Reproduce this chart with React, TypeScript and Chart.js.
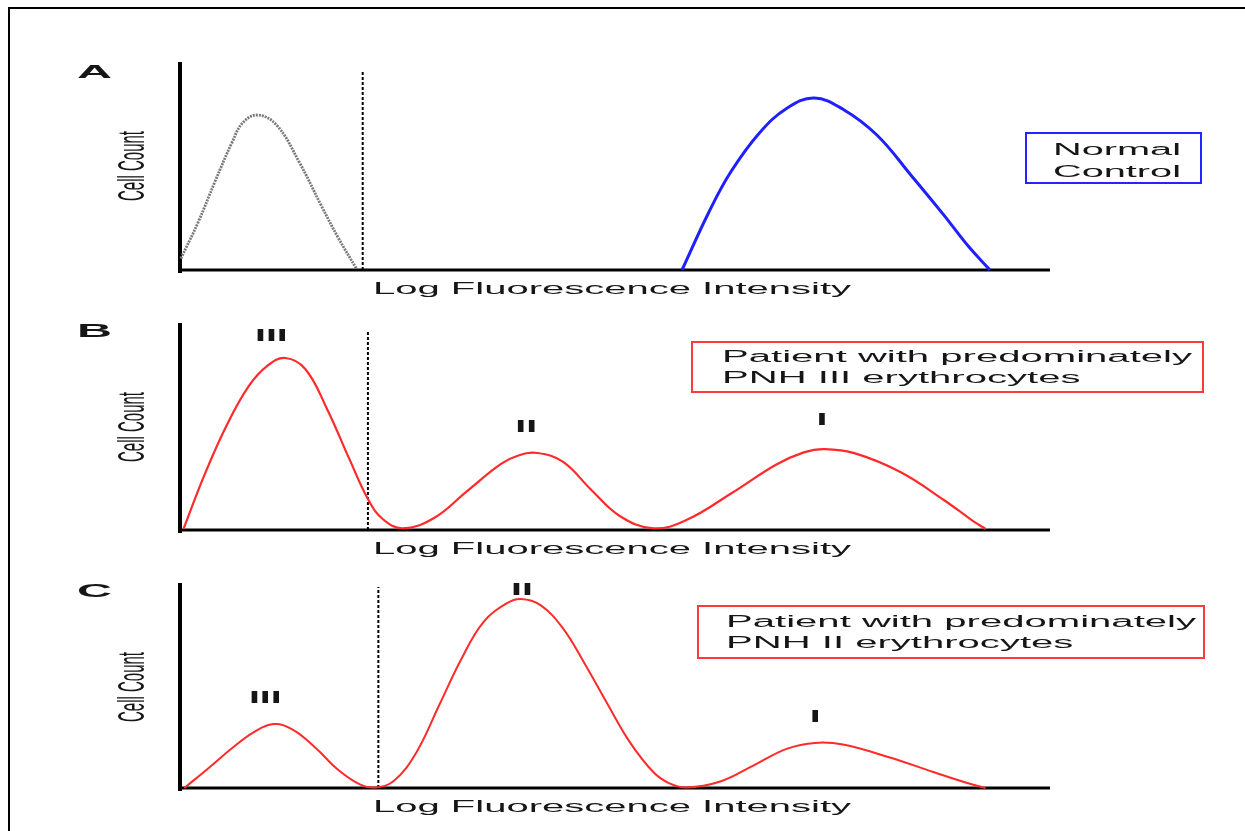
import React, { useEffect, useRef } from "react";
import { Chart, registerables } from "chart.js";

Chart.register(...registerables);

// ---------------- DATA ----------------
// x: log fluorescence intensity (0..100 arbitrary units), y: cell count (0..100 arbitrary units)

// Panel A – isotype (negative) control peak
const isotypeX = [0.1, 2.1, 4.0, 6.0, 7.2, 8.9, 11.1, 13.7, 16.2, 18.2, 20.3];
const isotypeY = [5.5, 23.1, 42.3, 61.5, 70.7, 74.5, 69.7, 51.9, 31.3, 15.4, 0.5];

// Panel A – normal control peak
const normalX = [57.7, 60.8, 63.3, 66.6, 69.8, 72.9, 76.2, 80.1, 84.0, 87.8, 90.5, 93.1];
const normalY = [0, 27.9, 47.1, 65.9, 77.9, 82.7, 77.3, 64.9, 45.7, 26.4, 12.0, 0];

// Panel B – patient with predominately PNH III cells
const patientBX = [0.4, 2.8, 5.3, 7.9, 10.1, 12.1, 14.4, 16.9, 19.5, 21.6, 23.3, 25.6, 29.2, 33.0, 36.9, 38.9, 41.1, 44.0, 47.2, 50.5, 54.4, 58.2, 63.3, 68.5, 71.7, 74.1, 77.6, 82.8, 87.8, 91.0, 92.6];
const patientBY = [0.5, 26.5, 50.0, 69.5, 79.5, 83.1, 77.8, 58.5, 34.0, 15.0, 5.3, 0.8, 5.8, 18.8, 31.9, 36.0, 37.2, 33.0, 19.7, 6.9, 0.8, 4.8, 17.5, 31.5, 37.5, 39.1, 37.0, 28.0, 14.5, 4.8, 0.5];

// Panel C – patient with predominately PNH II cells
const patientCX = [0.5, 3.3, 6.0, 8.5, 10.8, 13.0, 15.6, 18.2, 20.8, 22.5, 24.6, 27.2, 29.8, 32.4, 34.9, 37.6, 39.2, 41.4, 44.0, 46.6, 49.2, 51.7, 54.4, 56.2, 58.2, 62.1, 66.0, 69.8, 73.0, 76.2, 81.4, 86.6, 90.5, 92.6];
const patientCY = [0, 9.8, 19.5, 27.3, 31.2, 28.3, 19.5, 8.8, 1.5, 0.3, 3.5, 17.6, 40.5, 63.4, 81.0, 90.2, 92.2, 89.3, 78.0, 60.0, 40.5, 22.4, 7.8, 2.4, 0.3, 3.2, 11.2, 19.2, 22.0, 21.2, 15.1, 7.8, 2.4, 0];

// Negative-gate thresholds (x) and their heights (y) for panels A, B, C
const thresholdX = [21.0, 21.6, 22.8];
const thresholdTop = [96.2, 95.7, 98.0];

// Peak labels
const labelsBText = ["III", "II", "I"];
const labelsBX = [10.5, 39.8, 73.8];
const labelsBY = [91.3, 47.3, 50.7];
const labelsCText = ["III", "II", "I"];
const labelsCX = [9.8, 39.3, 73.0];
const labelsCY = [41.5, 94.1, 32.2];

const panelLetters = ["A", "B", "C"];
const xTitle = "Log Fluorescence Intensity";
const yTitle = "Cell Count";
const boxA = ["Normal", "Control"];
const boxB = ["Patient with predominately", "PNH III erythrocytes"];
const boxC = ["Patient with predominately", "PNH II erythrocytes"];

// ---------------- HELPERS ----------------
const FONT = '"Liberation Sans", Arial, Helvetica, sans-serif';
const TEXT = "#161616";

function pts(xs: number[], ys: number[]) {
  return xs.map((x, i) => ({ x, y: ys[i] }));
}

function stretchText(
  ctx: CanvasRenderingContext2D,
  text: string,
  x: number,
  y: number,
  font: string,
  opt: { sx?: number; width?: number; align?: "left" | "center" },
) {
  ctx.save();
  ctx.font = font;
  ctx.fillStyle = TEXT;
  ctx.textBaseline = "alphabetic";
  ctx.textAlign = "left";
  const w = ctx.measureText(text).width;
  const sx = opt.width ? opt.width / w : opt.sx || 1;
  ctx.translate(x, y);
  ctx.scale(sx, 1);
  ctx.fillText(text, opt.align === "center" ? -w / 2 : 0, 0);
  ctx.restore();
  return sx;
}

interface Box {
  x1: number; y1: number; x2: number; y2: number; color: string;
  lines: string[]; mode: "center" | "left"; tx: number; ty: number[]; width: number;
}

interface PanelCfg {
  canvasTop: number;
  canvasHeight: number;
  padTop: number;
  padBottom: number;
  letter: string;
  letterBaseline: number;
  cellCountY: number;
  box: Box;
  labels: { text: string; x: number; y: number }[];
  datasets: any[];
}

const W = 1245;
const PLOT_LEFT = 180;
const PLOT_RIGHT = 1050;

function thresholdDataset(i: number) {
  return {
    data: [{ x: thresholdX[i], y: 0 }, { x: thresholdX[i], y: thresholdTop[i] }],
    borderColor: "#000",
    borderWidth: 2,
    borderDash: [3, 2],
    pointRadius: 0,
    tension: 0,
    clip: false,
    order: 5,
  };
}

function curve(xs: number[], ys: number[], color: string, width: number, dash?: number[]) {
  return {
    data: pts(xs, ys),
    borderColor: color,
    borderWidth: width,
    borderDash: dash || [],
    pointRadius: 0,
    tension: 0.4,
    clip: false,
    order: 1,
  };
}

const panels: PanelCfg[] = [
  {
    canvasTop: 0,
    canvasHeight: 300,
    padTop: 62,
    padBottom: 30,
    letter: panelLetters[0],
    letterBaseline: 78,
    cellCountY: 166,
    box: { x1: 1026, y1: 133, x2: 1201, y2: 183, color: "#2424ff", lines: boxA, mode: "center", tx: 1117, ty: [155, 177], width: 128 },
    labels: [],
    datasets: [
      thresholdDataset(0),
      curve(isotypeX, isotypeY, "#7a7a7a", 2.8, [2, 1]),
      curve(normalX, normalY, "#1f1fff", 3),
    ],
  },
  {
    canvasTop: 300,
    canvasHeight: 260,
    padTop: 23,
    padBottom: 30,
    letter: panelLetters[1],
    letterBaseline: 337,
    cellCountY: 427,
    box: { x1: 692, y1: 342, x2: 1203, y2: 392, color: "#ff3a3a", lines: boxB, mode: "left", tx: 722, ty: [362, 383], width: 470 },
    labels: labelsBText.map((t, i) => ({ text: t, x: labelsBX[i], y: labelsBY[i] })),
    datasets: [thresholdDataset(1), curve(patientBX, patientBY, "#ff2a2a", 2.2)],
  },
  {
    canvasTop: 560,
    canvasHeight: 271,
    padTop: 23,
    padBottom: 43,
    letter: panelLetters[2],
    letterBaseline: 597,
    cellCountY: 687,
    box: { x1: 698, y1: 606, x2: 1204, y2: 658, color: "#ff3a3a", lines: boxC, mode: "left", tx: 726, ty: [627, 648], width: 470 },
    labels: labelsCText.map((t, i) => ({ text: t, x: labelsCX[i], y: labelsCY[i] })),
    datasets: [thresholdDataset(2), curve(patientCX, patientCY, "#ff2a2a", 2)],
  },
];

function makeDecor(cfg: PanelCfg) {
  return {
    id: "decor",
    beforeDatasetsDraw(chart: any) {
      const { ctx, chartArea } = chart;
      ctx.save();
      ctx.fillStyle = "#000";
      // y axis
      ctx.fillRect(chartArea.left - 2, chartArea.top, 4, chartArea.bottom - chartArea.top + 3);
      // x axis
      ctx.fillRect(chartArea.left, chartArea.bottom - 1.5, chartArea.right - chartArea.left, 3);
      ctx.restore();
    },
    afterDatasetsDraw(chart: any) {
      const { ctx, chartArea } = chart;
      const off = cfg.canvasTop;
      const xs = chart.scales.x;
      const ys = chart.scales.y;
      // panel letter
      stretchText(ctx, cfg.letter, 77, cfg.letterBaseline - off, `bold 18px ${FONT}`, { width: 35 });
      // x title
      stretchText(ctx, xTitle, 612, chartArea.bottom + 24, `16px ${FONT}`, { width: 478, align: "center" });
      // y title (rotated, stretched horizontally)
      ctx.save();
      ctx.font = `15px ${FONT}`;
      ctx.fillStyle = TEXT;
      ctx.textAlign = "center";
      ctx.textBaseline = "alphabetic";
      ctx.translate(144, cfg.cellCountY - off);
      ctx.scale(2.5, 1);
      ctx.rotate(-Math.PI / 2);
      ctx.fillText(yTitle, 0, 0);
      ctx.restore();
      // peak labels
      cfg.labels.forEach((l) => {
        stretchText(ctx, l.text, xs.getPixelForValue(l.x), ys.getPixelForValue(l.y), `bold 16px ${FONT}`, { sx: 2.45, align: "center" });
      });
      // box
      const b = cfg.box;
      ctx.save();
      ctx.strokeStyle = b.color;
      ctx.lineWidth = 2;
      ctx.strokeRect(b.x1, b.y1 - off, b.x2 - b.x1, b.y2 - b.y1);
      ctx.restore();
      if (b.mode === "center") {
        b.lines.forEach((t, i) => stretchText(ctx, t, b.tx, b.ty[i] - off, `16px ${FONT}`, { width: b.width, align: "center" }));
      } else {
        const sx = stretchText(ctx, b.lines[0], b.tx, b.ty[0] - off, `16px ${FONT}`, { width: b.width });
        for (let i = 1; i < b.lines.length; i++) stretchText(ctx, b.lines[i], b.tx, b.ty[i] - off, `16px ${FONT}`, { sx });
      }
    },
  };
}

function Panel({ cfg }: { cfg: PanelCfg }) {
  const ref = useRef<HTMLCanvasElement>(null);
  useEffect(() => {
    if (!ref.current) return;
    const chart = new Chart(ref.current, {
      type: "line",
      data: { datasets: cfg.datasets },
      options: {
        animation: false,
        responsive: false,
        devicePixelRatio: 1,
        layout: { padding: { left: PLOT_LEFT, right: W - PLOT_RIGHT, top: cfg.padTop, bottom: cfg.padBottom } },
        scales: {
          x: { type: "linear", min: 0, max: 100, display: false },
          y: { type: "linear", min: 0, max: 100, display: false },
        },
        plugins: { legend: { display: false }, tooltip: { enabled: false }, title: { display: false } },
        elements: { point: { radius: 0 } },
        events: [],
      } as any,
      plugins: [makeDecor(cfg)],
    });
    return () => chart.destroy();
  }, [cfg]);
  return (
    <canvas
      ref={ref}
      width={W}
      height={cfg.canvasHeight}
      style={{ position: "absolute", left: 0, top: cfg.canvasTop, width: W, height: cfg.canvasHeight }}
    />
  );
}

export default function App() {
  useEffect(() => {
    document.body.style.margin = "0";
    document.body.style.background = "#fff";
  }, []);
  return (
    <div style={{ position: "relative", width: W, height: 831, background: "#fff", overflow: "hidden" }}>
      {panels.map((p, i) => (
        <Panel key={i} cfg={p} />
      ))}
      <div style={{ position: "absolute", left: 8, top: 7, width: W - 8, height: 2, background: "#000" }} />
      <div style={{ position: "absolute", left: 8, top: 7, width: 2, height: 831 - 7, background: "#000" }} />
    </div>
  );
}
